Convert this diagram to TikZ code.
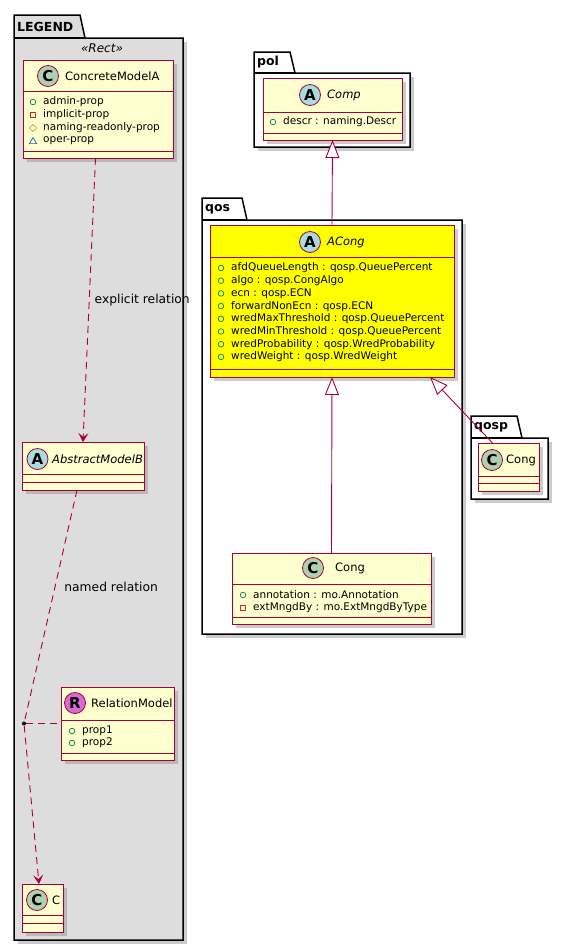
\documentclass[tikz,border=0pt]{standalone}
\usepackage{fontspec}
\setmainfont{DejaVu Sans}
\usetikzlibrary{arrows.meta}
\tikzset{ >=latex }
\definecolor{umlRed}{HTML}{A80036}
\definecolor{classFill}{HTML}{FEFECE}
\definecolor{legendFill}{HTML}{DDDDDD}
\definecolor{congYellow}{RGB}{255,255,0}
\definecolor{spotClass}{HTML}{ADD1B2}
\definecolor{spotAbstract}{HTML}{A9DCDF}
\definecolor{spotRelation}{HTML}{D76CD5}
\definecolor{pubGreen}{HTML}{038048}
\definecolor{privRed}{HTML}{C82930}
\definecolor{protGold}{HTML}{B38D22}
\definecolor{pkgBlue}{HTML}{1963A0}
\def\shadowOff{4}
\def\iconR{2.8}
\tikzset{
	pkgline/.style={draw=black, line width=1.5pt, line join=miter},
	pkgtitle/.style={anchor=west, inner sep=0pt, font=\fontsize{12.5}{14}\selectfont\bfseries},
	dropshadow/.style={fill=black!45, opacity=0.45},
	classbox/.style={draw=umlRed, line width=1pt, rectangle, anchor=north west, inner sep=0pt, outer sep=0pt},
	classline/.style={draw=umlRed, line width=1pt},
	spot/.style={circle, draw=umlRed, line width=0.8pt, minimum size=21pt, inner sep=0pt, font=\fontsize{15}{16}\selectfont\bfseries},
	classname/.style={anchor=west, inner sep=0pt, font=\fontsize{11.5}{13}\selectfont},
	attr/.style={anchor=west, inner sep=0pt, font=\fontsize{10.5}{12}\selectfont},
	stereo/.style={inner sep=0pt, font=\fontsize{12}{14}\selectfont\itshape},
	rellabel/.style={inner sep=0pt, font=\fontsize{12.3}{14}\selectfont},
	dep/.style={draw=umlRed, line width=0.9pt, dash pattern=on 7pt off 5pt},
	deparrow/.style={dep, -{Stealth[length=9pt, width=10pt, inset=4pt]}},
	inherit/.style={draw=umlRed, line width=0.9pt, -{Triangle[length=18pt, width=14pt, fill=white]}},
	assocdot/.style={circle, fill=black, minimum size=4pt, inner sep=0pt},
}
% Visibility icons, centred at (#1,#2)
\newcommand\pubIcon[2]{\draw[pubGreen, line width=0.7pt] ({#1},{#2}) circle (\iconR pt);}
\newcommand\privIcon[2]{\draw[privRed, line width=0.7pt] ({#1-\iconR},{#2-\iconR}) rectangle ({#1+\iconR},{#2+\iconR});}
\newcommand\protIcon[2]{\draw[protGold, line width=0.7pt] ({#1-3.5},{#2}) -- ({#1},{#2-3.5}) -- ({#1+3.5},{#2}) -- ({#1},{#2+3.5}) -- cycle;}
\newcommand\pkgIcon[2]{\draw[pkgBlue, line width=0.7pt] ({#1-3.6},{#2+2.6}) -- ({#1+3.6},{#2+2.6}) -- ({#1},{#2-3.4}) -- cycle;}
% Package: [fill] title, left, tab top, tab right, body top, right, bottom
\newcommand\DrawPackage[8][white]{
	\fill[dropshadow] ({#3+\shadowOff},{#6+\shadowOff}) rectangle ({#7+\shadowOff},{#8+\shadowOff});
	\draw[pkgline, fill=#1] ({#3},{#4}) -- ({#5},{#4}) -- ({#5+5},{#6}) -- ({#7},{#6}) -- ({#7},{#8}) -- ({#3},{#8}) -- cycle;
	\draw[pkgline] ({#3},{#6}) -- ({#5+5},{#6});
	\node[pkgtitle] (pkg#2) at ({#3+3},{(#4+#6)/2}) {#2};
}
% Class box: [fill] node, left, top, right, bottom, header line, attribute line
\newcommand\DrawClass[8][classFill]{
	\fill[dropshadow] ({#3+\shadowOff},{#4+\shadowOff}) rectangle ({#5+\shadowOff},{#6+\shadowOff});
	\node[classbox, fill=#1, minimum width={(#5-#3)*1pt}, minimum height={(#6-#4)*1pt}] (#2) at ({#3},{#4}) {};
	\draw[classline] ({#3},{#7}) -- ({#5},{#7});
	\draw[classline] ({#3},{#8}) -- ({#5},{#8});
}
% Class header: node, spot x, y, spot colour, letter, name x, name
\newcommand\DrawHeader[7]{
	\node[spot, fill=#4] (#1spot) at ({#2},{#3}) {#5};
	\node[classname] (#1name) at ({#6},{#3}) {#7};
}
% Attribute: node, visibility, text x, y, text
\newcommand\DrawAttr[5]{
	\csname #2Icon\endcsname{#3-10}{#4}
	\node[attr] (#1) at ({#3},{#4}) {#5};
}

\begin{document}
\begin{tikzpicture}[x=1pt, y=-1pt]
	\useasboundingbox (0,0) rectangle (569,951);
	\fill[white] (0,0) rectangle (569,951);						% Page background
	% Packages
	\DrawPackage[legendFill]{LEGEND}{14}{15}{80}{38}{183}{940}
	\DrawPackage{pol}{254}{52}{290}{73}{410}{147}
	\DrawPackage{qos}{202}{198}{242}{220}{462}{634}
	\DrawPackage{qosp}{471}{416}{517}{438}{548}{499}
	\node[stereo] (legendstereo) at (102,48) {«Rect»};			% Legend stereotype
	% Legend classes
	\DrawClass{cma}{23}{60}{173}{158}{91}{151}
	\DrawHeader{cma}{48}{76}{spotClass}{C}{65}{ConcreteModelA}
	\DrawAttr{cmaadmin}{pub}{43}{102}{admin-prop}
	\DrawAttr{cmaimplicit}{priv}{43}{115}{implicit-prop}
	\DrawAttr{cmanaming}{prot}{43}{128}{naming-readonly-prop}
	\DrawAttr{cmaoper}{pkg}{43}{141}{oper-prop}
	\DrawClass{absb}{22}{442}{144}{490}{474}{482}
	\DrawHeader{absb}{37.5}{459}{spotAbstract}{A}{52}{\itshape AbstractModelB}
	\DrawClass{relm}{61}{687}{174}{760}{720}{753}
	\DrawHeader{relm}{75}{703}{spotRelation}{R}{91}{RelationModel}
	\DrawAttr{relmprop1}{pub}{82}{731}{prop1}
	\DrawAttr{relmprop2}{pub}{82}{743}{prop2}
	\DrawClass{classC}{22}{884}{63}{932}{915}{923}
	\DrawHeader{classC}{37}{900}{spotClass}{C}{52}{C}
	% Model classes
	\DrawClass{comp}{263}{78}{402}{140}{112}{133}
	\DrawHeader{comp}{310}{95}{spotAbstract}{A}{327}{\itshape Comp}
	\DrawAttr{compdescr}{pub}{283}{122}{descr : naming.Descr}
	\DrawClass[congYellow]{acong}{210}{225}{454}{377}{257}{369}
	\DrawHeader{acong}{310}{242}{spotAbstract}{A}{327}{\itshape ACong}
	\foreach \t [count=\i] in {afdQueueLength : qosp.QueuePercent, algo : qosp.CongAlgo,
		ecn : qosp.ECN, forwardNonEcn : qosp.ECN, wredMaxThreshold : qosp.QueuePercent,
		wredMinThreshold : qosp.QueuePercent, wredProbability : qosp.WredProbability,
		wredWeight : qosp.WredWeight}
		{ \DrawAttr{acongattr\i}{pub}{231}{268+12.7*(\i-1)}{\t} }
	\DrawClass{qosCong}{232}{553}{431}{624}{584}{617}
	\DrawHeader{qosCong}{313}{568}{spotClass}{C}{335}{Cong}
	\DrawAttr{qosCongannot}{pub}{253}{595}{annotation : mo.Annotation}
	\DrawAttr{qosCongext}{priv}{253}{608}{extMngdBy : mo.ExtMngdByType}
	\DrawClass{qospCong}{478}{443}{539}{491}{476}{483}
	\DrawHeader{qospCong}{492}{460}{spotClass}{C}{506}{Cong}
	% Relations
	\node[assocdot] (assoc) at (24,723.5) {};					% Association point
	\draw[deparrow] ([xshift=-2.5pt]cma.south) -- (absb.north)
		node[rellabel, midway, right=5pt] (lblexplicit) {explicit relation};
	\draw[dep] ([xshift=-6pt]absb.south) -- (assoc)
		node[rellabel, pos=0.42, right=9pt] (lblnamed) {named relation};
	\draw[dep] (assoc) -- (relm.west);
	\draw[deparrow] (assoc) -- ([xshift=-3.5pt]classC.north);
	\draw[inherit] (acong.north) -- (comp.south);
	\draw[inherit] (qosCong.north) -- (acong.south);
	\draw[inherit] ([xshift=-16pt]qospCong.north) -- ([xshift=-24pt]acong.south east);
\end{tikzpicture}
\end{document}
